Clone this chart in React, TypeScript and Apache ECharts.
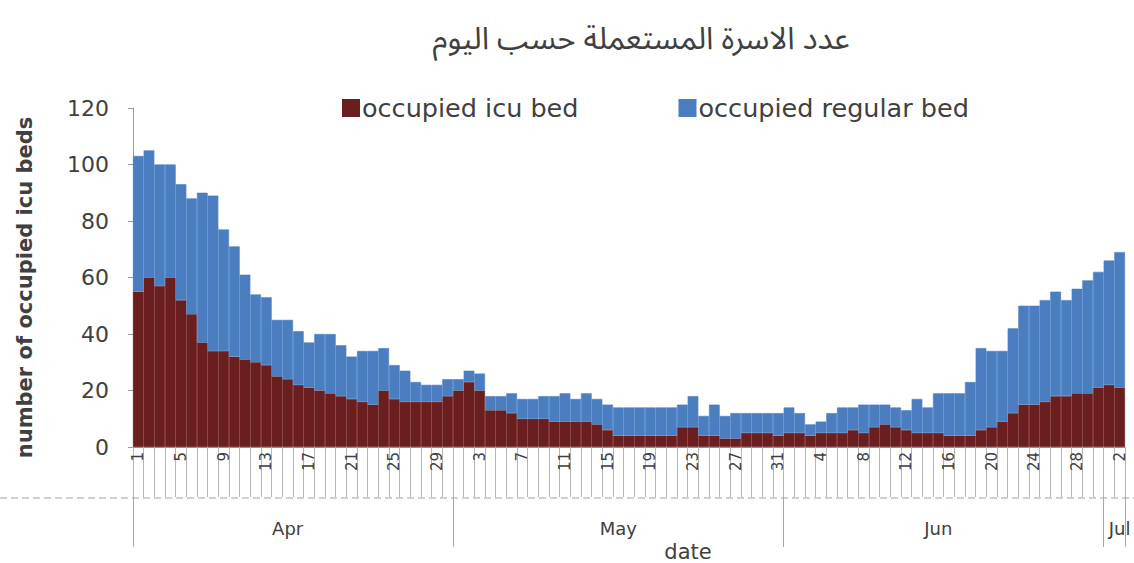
import React, { useEffect, useRef } from "react";
import * as echarts from "echarts";

// ---- data ----
const monthNames = ["Apr", "May", "Jun", "Jul"];
const monthDays = [30, 31, 30, 2];
const monthLabelIndex = [14, 45, 75, 92];
const seriesNames = ["occupied icu bed", "occupied regular bed"];
const yTicks = { min: 0, max: 120, interval: 20 };

// occupied ICU beds per day (Apr 1 .. Jul 2)
const icuBeds = [
  55, 60, 57, 60, 52, 47, 37, 34, 34, 32, 31, 30, 29, 25, 24, 22, 21, 20, 19, 18,
  17, 16, 15, 20, 17, 16, 16, 16, 16, 18, 20, 23, 20, 13, 13, 12, 10, 10, 10, 9,
  9, 9, 9, 8, 6, 4, 4, 4, 4, 4, 4, 7, 7, 4, 4, 3, 3, 5, 5, 5,
  4, 5, 5, 4, 5, 5, 5, 6, 5, 7, 8, 7, 6, 5, 5, 5, 4, 4, 4, 6,
  7, 9, 12, 15, 15, 16, 18, 18, 19, 19, 21, 22, 21,
];

// occupied regular beds per day (stacked above ICU)
const regularBeds = [
  48, 45, 43, 40, 41, 41, 53, 55, 43, 39, 30, 24, 24, 20, 21, 19, 16, 20, 21, 18,
  15, 18, 19, 15, 12, 11, 7, 6, 6, 6, 4, 4, 6, 5, 5, 7, 7, 7, 8, 9,
  10, 8, 10, 9, 9, 10, 10, 10, 10, 10, 10, 8, 11, 7, 11, 8, 9, 7, 7, 7,
  8, 9, 7, 4, 4, 7, 9, 8, 10, 8, 7, 7, 7, 12, 9, 14, 15, 15, 19, 29,
  27, 25, 30, 35, 35, 36, 37, 34, 37, 40, 41, 44, 48,
];

const categories: string[] = [];
const monthStart: number[] = [];
monthNames.forEach((m, mi) => {
  monthStart.push(categories.length);
  for (let d = 1; d <= monthDays[mi]; d++) categories.push(`${m} ${d}`);
});

const FONT = "'DejaVu Sans', 'Open Sans', sans-serif";
const TEXT = "#404040";
const ICU = "#6b1e1e";
const REG = "#4a7ec0";

export default function App() {
  const ref = useRef<HTMLDivElement>(null);
  useEffect(() => {
    if (!ref.current) return;
    const chart = echarts.init(ref.current, null, { renderer: "svg" });
    chart.setOption({
      animation: false,
      backgroundColor: "#ffffff",
      title: {
        text: "عدد الاسرة المستعملة حسب اليوم",
        left: 636,
        textAlign: "center",
        top: 18,
        textStyle: {
          fontFamily: "'Noto Sans Arabic', 'DejaVu Sans', sans-serif",
          fontSize: 31,
          fontWeight: "normal",
          color: TEXT,
        },
      },
      legend: {
        left: 337,
        top: 90,
        itemWidth: 16,
        itemHeight: 16,
        itemGap: 100,
        icon: "rect",
        textStyle: { fontFamily: FONT, fontSize: 25.5, color: TEXT, padding: [0, 0, 0, -2] },
        data: seriesNames,
      },
      grid: {
        left: 133,
        right: 9,
        top: 108,
        bottom: 116,
        containLabel: false,
        outerBoundsMode: "none",
      },
      xAxis: [
        {
          type: "category",
          data: categories,
          boundaryGap: true,
          position: "bottom",
          axisLine: { show: true, lineStyle: { color: "#9a9a9a" } },
          axisTick: { show: true, interval: 0, length: 50, lineStyle: { color: "#b5b5b5" } },
          axisLabel: {
            interval: 3,
            rotate: 90,
            margin: 5,
            fontFamily: FONT,
            fontSize: 15,
            color: TEXT,
            formatter: (v: string) => v.split(" ")[1],
          },
        },
        {
          type: "category",
          data: categories,
          boundaryGap: true,
          position: "bottom",
          offset: 50,
          axisLine: { show: false },
          axisTick: {
            show: true,
            interval: (i: number) => monthStart.includes(i),
            length: 50,
            lineStyle: { color: "#a8a8a8" },
          },
          axisLabel: {
            interval: (i: number) => monthLabelIndex.includes(i),
            margin: 22,
            fontFamily: FONT,
            fontSize: 18,
            color: TEXT,
            formatter: (v: string) => v.split(" ")[0],
          },
          name: "date",
          nameLocation: "middle",
          nameGap: 37,
          nameTextStyle: { fontFamily: FONT, fontSize: 21, color: TEXT, padding: [0, 0, 0, 118] },
        },
      ],
      yAxis: {
        type: "value",
        min: yTicks.min,
        max: yTicks.max,
        interval: yTicks.interval,
        axisLine: { show: true, lineStyle: { color: "#9a9a9a" } },
        axisTick: { show: true, length: 5, lineStyle: { color: "#9a9a9a" } },
        splitLine: { show: false },
        axisLabel: { fontFamily: FONT, fontSize: 22, color: TEXT, margin: 24 },
        name: "number of occupied icu beds",
        nameLocation: "middle",
        nameGap: 98,
        nameTextStyle: {
          fontFamily: FONT,
          fontSize: 21,
          fontWeight: "bold",
          color: TEXT,
          padding: [0, 20, 0, 0],
        },
      },
      graphic: [
        {
          type: "line",
          shape: { x1: 0, y1: 498, x2: 1134, y2: 498 },
          style: { stroke: "#a0a0a0", lineWidth: 1, lineDash: [7, 4] },
          silent: true,
        },
      ],
      series: [
        {
          name: seriesNames[0],
          type: "bar",
          stack: "beds",
          data: icuBeds,
          barCategoryGap: "0%",
          itemStyle: { color: ICU, borderColor: ICU, borderWidth: 0.6 },
        },
        {
          name: seriesNames[1],
          type: "bar",
          stack: "beds",
          data: regularBeds,
          barCategoryGap: "0%",
          itemStyle: { color: REG, borderColor: REG, borderWidth: 0.6 },
        },
      ],
    });
    return () => chart.dispose();
  }, []);
  return (
    <div
      ref={ref}
      style={{ position: "fixed", left: 0, top: 0, width: 1134, height: 563, background: "#fff" }}
    />
  );
}
